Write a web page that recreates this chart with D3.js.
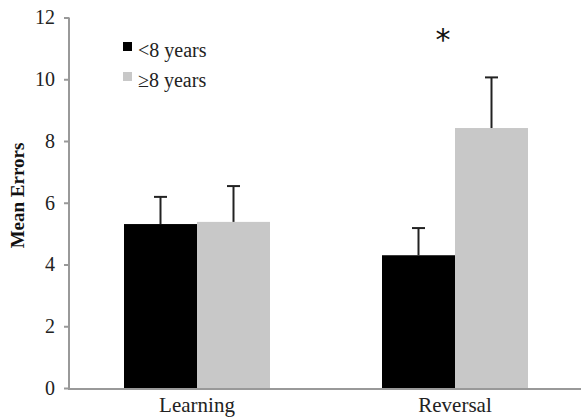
<!DOCTYPE html>
<html>
<head>
<meta charset="utf-8">
<script src="https://cdn.jsdelivr.net/npm/d3@7"></script>
<style>
    body { margin: 0; background: #fff; }
    svg { display: block; font-family: "Liberation Serif", "Times New Roman", serif; }
    .axis path, .axis line { stroke: #999; stroke-width: 2px; }
    .axis text { fill: #222; }
</style>
</head>
<body>
<div class="container"></div>
<script>
var WIDTH = 581;
var HEIGHT = 419;

var categories = ['Learning', 'Reversal'];
var groups = ['<8 years', '\u22658 years'];
var colors = ['#000000', '#c8c8c8'];
var youngMeans = [5.31, 4.30];
var youngErrors = [0.88, 0.88];
var oldMeans = [5.38, 8.42];
var oldErrors = [1.16, 1.64];
var yTicks = [0, 2, 4, 6, 8, 10, 12];
var significant = ['Reversal'];

var FONT = '"Liberation Serif", "Times New Roman", serif';

var translate = function (x, y) {
    return 'translate(' + x + ',' + y + ')';
};

var rows = categories.map(function (c, i) {
    return {
        category: c,
        values: [
            {group: groups[0], mean: youngMeans[i], err: youngErrors[i]},
            {group: groups[1], mean: oldMeans[i], err: oldErrors[i]}
        ]
    };
});

var x0 = d3.scaleBand().domain(categories).range([68, 584]).paddingInner(0).paddingOuter(0);
var x1 = d3.scaleBand().domain(groups).range([0, 146]);
var groupOffset = (x0.bandwidth() - 146) / 2;
var y = d3.scaleLinear().domain([0, 12]).range([388, 17.5]);
var color = d3.scaleOrdinal().domain(groups).range(colors);

var svg = d3.select('.container').append('svg')
    .attr('width', WIDTH)
    .attr('height', HEIGHT);

// bars
var g = svg.selectAll('.group')
    .data(rows)
    .enter().append('g')
    .attr('class', 'group')
    .attr('transform', function (d) { return translate(x0(d.category) + groupOffset, 0); });

g.selectAll('rect')
    .data(function (d) { return d.values; })
    .enter().append('rect')
    .attr('x', function (d) { return x1(d.group); })
    .attr('width', x1.bandwidth())
    .attr('y', function (d) { return y(d.mean); })
    .attr('height', function (d) { return y(0) - y(d.mean); })
    .attr('fill', function (d) { return color(d.group); });

// error bars (upper only)
var eb = g.selectAll('.err')
    .data(function (d) { return d.values; })
    .enter().append('g')
    .attr('class', 'err')
    .attr('stroke', '#222')
    .attr('stroke-width', 2);

eb.append('line')
    .attr('x1', function (d) { return x1(d.group) + x1.bandwidth() / 2; })
    .attr('x2', function (d) { return x1(d.group) + x1.bandwidth() / 2; })
    .attr('y1', function (d) { return y(d.mean); })
    .attr('y2', function (d) { return y(d.mean + d.err); });

eb.append('line')
    .attr('x1', function (d) { return x1(d.group) + x1.bandwidth() / 2 - 6.5; })
    .attr('x2', function (d) { return x1(d.group) + x1.bandwidth() / 2 + 6.5; })
    .attr('y1', function (d) { return y(d.mean + d.err); })
    .attr('y2', function (d) { return y(d.mean + d.err); });

// axes
var yAxis = d3.axisLeft(y).tickValues(yTicks).tickSize(5).tickPadding(9);
svg.append('g')
    .attr('class', 'axis')
    .attr('transform', translate(69, 0))
    .call(yAxis)
    .attr('font-family', FONT)
    .attr('font-size', 20)
    .call(function (s) { s.select('.domain').attr('d', 'M0,' + y(12) + 'V' + y(0)); });

var xAxis = d3.axisBottom(x0).tickSize(0).tickPadding(8);
svg.append('g')
    .attr('class', 'axis')
    .attr('transform', translate(0, 389))
    .call(xAxis)
    .attr('font-family', FONT)
    .attr('font-size', 21)
    .call(function (s) { s.select('.domain').attr('d', 'M68,0H581'); });

// y label
svg.append('text')
    .attr('transform', translate(24, 195.5) + ' rotate(-90)')
    .attr('text-anchor', 'middle')
    .attr('font-size', 19)
    .attr('font-weight', 'bold')
    .attr('fill', '#111')
    .text('Mean Errors');

// significance
svg.selectAll('.star')
    .data(significant)
    .enter().append('text')
    .attr('class', 'star')
    .attr('x', function (d) { return x0(d) + x0.bandwidth() / 2 - 12; })
    .attr('y', 50)
    .attr('text-anchor', 'middle')
    .attr('font-family', 'DejaVu Sans, sans-serif')
    .attr('font-size', 30)
    .attr('fill', '#111')
    .text('*');

// legend
var legend = svg.selectAll('.legend')
    .data(groups)
    .enter().append('g')
    .attr('class', 'legend')
    .attr('transform', function (d, i) { return translate(123, 42 + i * 30); });

legend.append('rect')
    .attr('width', 9)
    .attr('height', 9)
    .attr('fill', function (d) { return color(d); });

legend.append('text')
    .attr('x', 15)
    .attr('y', 15)
    .attr('font-size', 20)
    .attr('fill', '#222')
    .text(function (d) { return d; });
</script>
</body>
</html>
